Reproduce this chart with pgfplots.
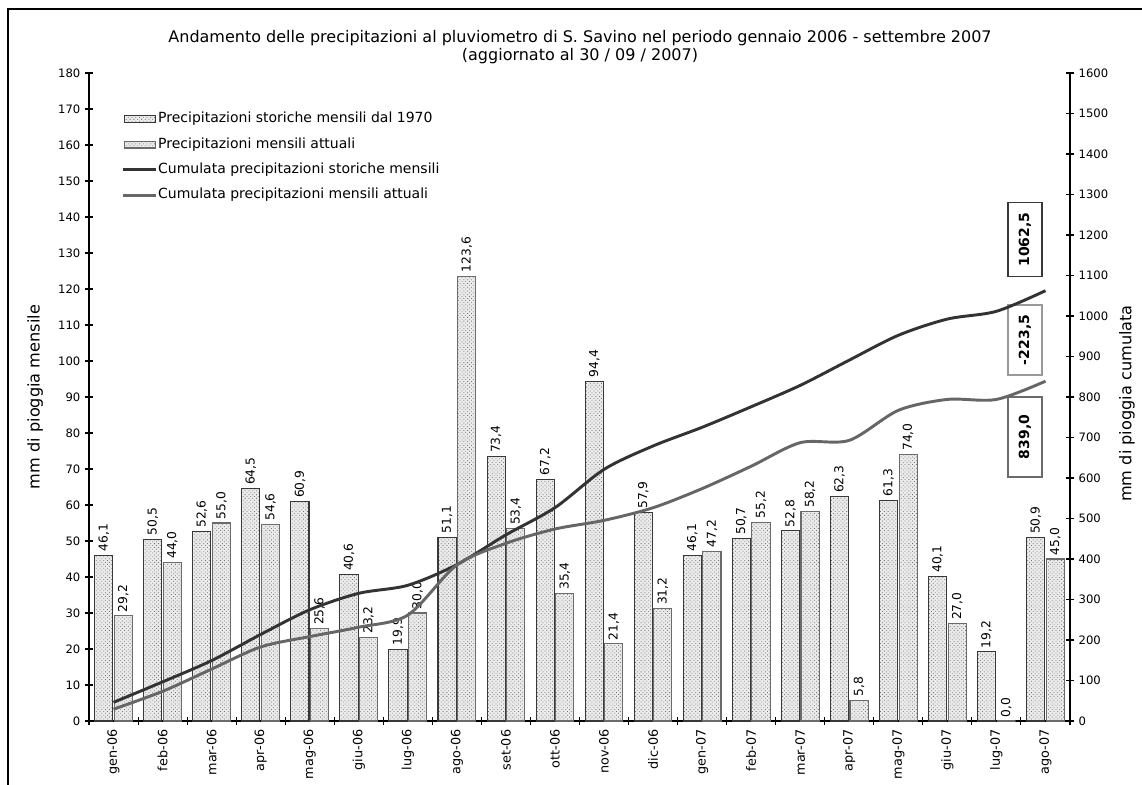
\documentclass[border=0pt]{standalone}
\usepackage{fontspec}
\setmainfont{DejaVu Sans}
\usepackage{pgfplots}
\usepackage{pgfplotstable}
\pgfplotsset{compat=1.18}
\usetikzlibrary{patterns.meta}

\definecolor{histedge}{gray}{0.22}
\definecolor{actedge}{gray}{0.42}
\definecolor{histline}{gray}{0.2}
\definecolor{actline}{gray}{0.4}
\definecolor{barbg}{gray}{0.92}

\pgfplotsset{
  barlegend/.style={legend image code/.code={\draw[##1,/tikz/.cd] (0pt,-2.6pt) rectangle (23pt,2.6pt);}},
  histlinelegend/.style={legend image code/.code={\draw[histline, line width=2.2pt] (-1.5pt,0pt) -- (23.5pt,0pt);}},
  actlinelegend/.style={legend image code/.code={\draw[actline, line width=2.2pt] (-1.5pt,0pt) -- (23.5pt,0pt);}},
}

\pgfplotstableread{
x hist act chist cact
0 46.1 29.2 46.1 29.2
1 50.5 44.0 96.6 73.2
2 52.6 55.0 149.2 128.2
3 64.5 54.6 213.7 182.8
4 60.9 25.6 274.6 208.4
5 40.6 23.2 315.2 231.6
6 19.9 30.0 335.1 261.6
7 51.1 123.6 386.2 385.2
8 73.4 53.4 459.6 438.6
9 67.2 35.4 526.8 474.0
10 94.4 21.4 621.2 495.4
11 57.9 31.2 679.1 526.6
12 46.1 47.2 725.2 573.8
13 50.7 55.2 775.9 629.0
14 52.8 58.2 828.7 687.2
15 62.3 5.8 891.0 693.0
16 61.3 74.0 952.3 767.0
17 40.1 27.0 992.4 794.0
18 19.2 0.0 1011.6 794.0
19 50.9 45.0 1062.5 839.0
}\data

\newcommand{\tickfont}{\fontsize{8.7}{10}\selectfont}
\newcommand{\xtickfont}{\fontsize{9.6}{11}\selectfont}
\newcommand{\labfont}{\fontsize{9.2}{11}\selectfont}

\begin{document}
\begin{tikzpicture}
\path[use as bounding box] (0,0) rectangle (856.5pt,588.75pt);
\draw[line width=1.5pt] (6pt,0) -- (6pt,582pt) -- (856.5pt,582pt);
\node[align=center, font=\fontsize{12}{14}\selectfont] at (435pt,553.5pt)
 {Andamento delle precipitazioni al pluviometro di S. Savino nel periodo gennaio 2006 - settembre 2007\\(aggiornato al 30 / 09 / 2007)};

\begin{axis}[
  at={(66.75pt,48pt)}, anchor=south west, scale only axis,
  width=735.75pt, height=486pt,
  xmin=-0.5, xmax=19.5, ymin=0, ymax=180,
  axis x line*=bottom, axis y line*=left,
  axis line style={line width=1pt, black},
  tick align=center,
  major tick length=6pt, minor tick length=6pt,
  xtick={0,...,19},
  xticklabels={gen-06,feb-06,mar-06,apr-06,mag-06,giu-06,lug-06,ago-06,set-06,ott-06,nov-06,dic-06,gen-07,feb-07,mar-07,apr-07,mag-07,giu-07,lug-07,ago-07},
  major x tick style={draw=none},
  minor xtick={-0.5,0.5,...,19.5},
  minor x tick style={black, line width=0.8pt},
  ytick={0,10,...,180},
  ytick style={black, line width=0.8pt},
  xticklabel style={rotate=90, anchor=east, font=\xtickfont},
  yticklabel style={font=\tickfont},
  /pgf/number format/assume math mode=true,
  /pgf/number format/1000 sep={},
  ylabel={mm di pioggia mensile},
  ylabel style={at={(axis description cs:-0.055,0.5)}, anchor=center, font=\fontsize{12.1}{14}\selectfont},
  legend style={at={(axis description cs:0.0285,0.945)}, anchor=north west, draw=none, fill=none,
    font=\fontsize{10.5}{12}\selectfont, row sep=7.5pt,
    nodes={inner sep=0.5pt, text height=8pt, text depth=2.5pt}},
  legend cell align=left,
  clip=false,
]
\addplot[ybar, bar width=0.37, bar shift=-0.2, draw=histedge, line width=0.8pt, fill=barbg,
  postaction={pattern={Dots[distance=2pt,radius=0.42pt,angle=45]}, pattern color=black!55},
  nodes near coords={\pgfmathprintnumber[fixed,fixed zerofill,precision=1,use comma,assume math mode=true]{\pgfplotspointmeta}},
  nodes near coords style={xshift=-7.36pt, rotate=90, anchor=west, font=\labfont, inner sep=2.5pt},
  barlegend]
  table[x=x,y=hist]{\data};
\addlegendentry{Precipitazioni storiche mensili dal 1970}
\addplot[ybar, bar width=0.37, bar shift=0.2, draw=actedge, line width=0.8pt, fill=barbg,
  postaction={pattern={Dots[distance=2pt,radius=0.42pt,angle=45]}, pattern color=black!55},
  nodes near coords={\pgfmathprintnumber[fixed,fixed zerofill,precision=1,use comma,assume math mode=true]{\pgfplotspointmeta}},
  nodes near coords style={xshift=7.36pt, rotate=90, anchor=west, font=\labfont, inner sep=2.5pt},
  barlegend]
  table[x=x,y=act]{\data};
\addlegendentry{Precipitazioni mensili attuali}
\addlegendimage{histlinelegend}
\addlegendentry{Cumulata precipitazioni storiche mensili}
\addlegendimage{actlinelegend}
\addlegendentry{Cumulata precipitazioni mensili attuali}
\end{axis}

\node[draw=histedge, line width=0.8pt, fill=white, rotate=90, font=\bfseries\fontsize{10.5}{12}\selectfont, minimum width=55pt, minimum height=25.5pt, inner sep=0pt] at (768.75pt,409.1pt) {1062,5};
\node[draw=black!40, line width=0.8pt, fill=white, rotate=90, font=\bfseries\fontsize{10.5}{12}\selectfont, minimum width=52.5pt, minimum height=25.5pt, inner sep=0pt] at (768.75pt,333.75pt) {-223,5};
\node[draw=actedge, line width=0.8pt, fill=white, rotate=90, font=\bfseries\fontsize{10.5}{12}\selectfont, minimum width=60pt, minimum height=25.5pt, inner sep=0pt] at (768.75pt,261pt) {839,0};

\begin{axis}[
  at={(66.75pt,48pt)}, anchor=south west, scale only axis,
  width=735.75pt, height=486pt,
  xmin=-0.5, xmax=19.5, ymin=0, ymax=1600,
  axis x line=none, axis y line*=right,
  axis line style={line width=1pt, black},
  tick align=center, major tick length=6pt,
  ytick={0,100,...,1600},
  ytick style={black, line width=0.8pt},
  yticklabel style={font=\tickfont},
  /pgf/number format/assume math mode=true,
  /pgf/number format/1000 sep={},
  ylabel={mm di pioggia cumulata},
  ylabel style={at={(axis description cs:1.058,0.49)}, anchor=center, font=\fontsize{12.1}{14}\selectfont},
]
\addplot[smooth, line width=2.2pt, color=histline] table[x=x,y=chist]{\data};
\addplot[smooth, line width=2.2pt, color=actline] table[x=x,y=cact]{\data};
\end{axis}
\end{tikzpicture}
\end{document}
